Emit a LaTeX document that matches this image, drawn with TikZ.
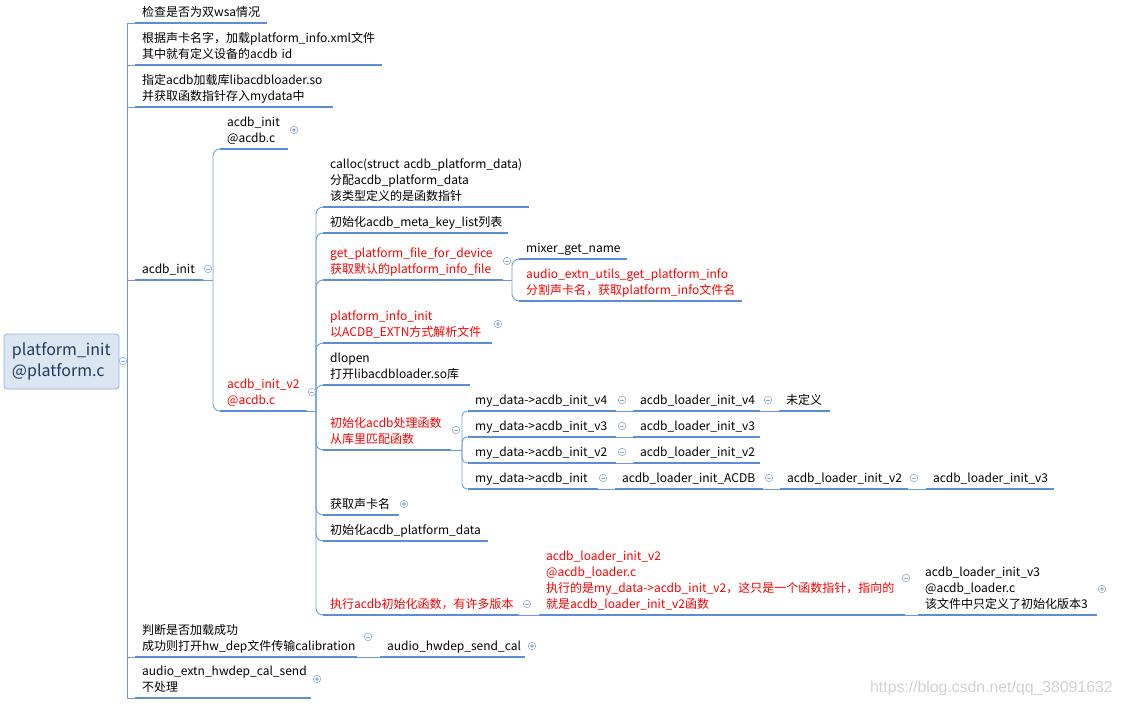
\documentclass[tikz,border=0pt]{standalone}
\usepackage{fontspec}
\setmainfont{Noto Sans CJK SC}
\newfontfamily\wmfont{Liberation Sans}
\definecolor{lineblue}{HTML}{5B8ED6}
\definecolor{connblue}{HTML}{6E9BDB}
\definecolor{iconc}{HTML}{93AECF}
\definecolor{rootfill}{HTML}{DCE6F2}
\definecolor{rootdraw}{HTML}{8EB4E3}
\definecolor{roottext}{HTML}{1F3A60}
\definecolor{redt}{HTML}{FF0000}
\tikzset{
  topic/.style={anchor=south west, inner xsep=7pt, inner ysep=1.8pt,
    align=left, font=\fontsize{12}{16}\selectfont, text=black,
    execute at begin node={\hyphenpenalty=10000\exhyphenpenalty=10000},
    execute at end node={\strut}},
  red/.style={text=redt},
  w/.code={\pgfmathsetmacro\tw{#1-14}\edef\tmp{\noexpand\tikzset{text width=\tw pt}}\tmp},
  ul/.style={draw=lineblue, line width=1.8pt},
  conn/.style={draw=connblue, line width=0.9pt},
  rconn/.style={conn, rounded corners=7pt},
  rootbox/.style={draw=rootdraw, fill=rootfill, line width=0.8pt, rounded corners=3pt,
    inner xsep=8pt, text width=99pt, minimum height=55pt, align=left,
    font=\fontsize{16}{21}\selectfont, text=roottext},
  iminus/.style={circle, draw=iconc, fill=white, minimum size=7.5pt, inner sep=0pt, line width=0.6pt,
    path picture={\draw[iconc, line width=0.6pt] ([xshift=-2pt]path picture bounding box.center) -- ([xshift=2pt]path picture bounding box.center);}},
  iplus/.style={circle, draw=iconc, fill=white, minimum size=7.5pt, inner sep=0pt, line width=0.6pt,
    path picture={\fill[iconc] (path picture bounding box.center) circle (1.8pt);}},
  wm/.style={font=\wmfont\fontsize{15.8}{18}\selectfont, text=black!18, inner sep=0pt}
}
\begin{document}
\begin{tikzpicture}[x=1pt,y=-1pt]
\useasboundingbox (0,0) rectangle (1122,706);
% root
\node[rootbox] (root) at (61.5,361.5) {platform\_init\\@platform.c};
% level 1
\node[topic,w=132] (n1) at (135,23) {检查是否为双wsa情况};
\node[topic,w=247] (n2) at (135,65) {根据声卡名字，加载platform\_info.xml文件\\其中就有定义设备的acdb~id};
\node[topic,w=198] (n3) at (135,107) {指定acdb加载库libacdbloader.so\\并获取函数指针存入mydata中};
\node[topic,w=68] (n4) at (135,280) {acdb\_init};
\node[topic,w=222] (n5) at (135,657) {判断是否加载成功\\成功则打开hw\_dep文件传输calibration};
\node[topic,w=176] (n6) at (135,698) {audio\_extn\_hwdep\_cal\_send\\不处理};
% level 2
\node[topic,w=68] (n41) at (220,149) {acdb\_init\\@acdb.c};
\node[topic,red,w=87] (n42) at (220,411) {acdb\_init\_v2\\@acdb.c};
% level 3
\node[topic,w=206] (n421) at (323,207) {calloc(struct~acdb\_platform\_data)\\分配acdb\_platform\_data\\该类型定义的是函数指针};
\node[topic,w=185] (n422) at (323,233) {初始化acdb\_meta\_key\_list列表};
\node[topic,red,w=180] (n423) at (323,280) {get\_platform\_file\_for\_device\\获取默认的platform\_info\_file};
\node[topic,red,w=169] (n424) at (323,343) {platform\_info\_init\\以ACDB\_EXTN方式解析文件};
\node[topic,w=147] (n425) at (323,385) {dlopen\\打开libacdbloader.so库};
\node[topic,red,w=128] (n426) at (323,450) {初始化acdb处理函数\\从库里匹配函数};
\node[topic,w=76] (n427) at (323,515) {获取声卡名};
\node[topic,w=165] (n428) at (323,541) {初始化acdb\_platform\_data};
\node[topic,red,w=196] (n429) at (323,615) {执行acdb初始化函数，有许多版本};
% level 4
\node[topic,w=108] (n4231) at (519,259) {mixer\_get\_name};
\node[topic,red,w=223] (n4232) at (519,301) {audio\_extn\_utils\_get\_platform\_info\\分割声卡名，获取platform\_info文件名};
\node[topic,w=148] (m4) at (468,411) {my\_data->acdb\_init\_v4};
\node[topic,w=148] (m3) at (468,437) {my\_data->acdb\_init\_v3};
\node[topic,w=148] (m2) at (468,463) {my\_data->acdb\_init\_v2};
\node[topic,w=130] (m1) at (468,489) {my\_data->acdb\_init};
\node[topic,w=127] (l4) at (633,411) {acdb\_loader\_init\_v4};
\node[topic,w=51] (u4) at (779,411) {未定义};
\node[topic,w=127] (l3) at (633,437) {acdb\_loader\_init\_v3};
\node[topic,w=127] (l2) at (633,463) {acdb\_loader\_init\_v2};
\node[topic,w=148] (lA) at (615,489) {acdb\_loader\_init\_ACDB};
\node[topic,w=128] (lA2) at (780,489) {acdb\_loader\_init\_v2};
\node[topic,w=128] (lA3) at (926,489) {acdb\_loader\_init\_v3};
\node[topic,red,w=366] (k1) at (539,615) {acdb\_loader\_init\_v2\\@acdb\_loader.c\\执行的是my\_data->acdb\_init\_v2，这只是一个函数指针，指向的\\就是acdb\_loader\_init\_v2函数};
\node[topic,w=179] (k2) at (918,615) {acdb\_loader\_init\_v3\\@acdb\_loader.c\\该文件中只定义了初始化版本3};
\node[topic,w=145] (h1) at (380,657) {audio\_hwdep\_send\_cal};
% underlines
\foreach \n in {n1,n2,n3,n4,n5,n6,n41,n42,n421,n422,n423,n424,n425,n426,n427,n428,n429,
  n4231,n4232,m4,m3,m2,m1,l4,u4,l3,l2,lA,lA2,lA3,k1,k2,h1}
  \draw[ul] (\n.south west) -- (\n.south east);
% connectors level 1
\coordinate (s0) at (127,361);
\draw[conn] (root.east) -- (s0);
\foreach \n in {n1,n2,n3,n4,n5,n6} \draw[conn] (s0) |- (\n.south west);
% level 2
\coordinate (s4) at (213,280);
\draw[conn] (n4.south east) -- (s4);
\foreach \n in {n41,n42} \draw[rconn] (s4) |- (\n.south west);
% level 3
\coordinate (s42) at (316,411);
\draw[conn] (n42.south east) -- (s42);
\foreach \n in {n421,n422,n423,n424,n425,n426,n427,n428,n429} \draw[rconn] (s42) |- (\n.south west);
% level 4
\coordinate (s423) at (512,280);
\draw[conn] (n423.south east) -- (s423);
\foreach \n in {n4231,n4232} \draw[rconn] (s423) |- (\n.south west);
\coordinate (s426) at (462,450);
\draw[conn] (n426.south east) -- (s426);
\foreach \n in {m4,m3,m2,m1} \draw[conn, rounded corners=5pt] (s426) |- (\n.south west);
% chains
\draw[conn] (m4.south east) -- (l4.south west);
\draw[conn] (l4.south east) -- (u4.south west);
\draw[conn] (m3.south east) -- (l3.south west);
\draw[conn] (m2.south east) -- (l2.south west);
\draw[conn] (m1.south east) -- (lA.south west);
\draw[conn] (lA.south east) -- (lA2.south west);
\draw[conn] (lA2.south east) -- (lA3.south west);
\draw[conn] (n429.south east) -- (k1.south west);
\draw[conn] (k1.south east) -- (k2.south west);
\draw[conn] (n5.south east) -- (h1.south west);
% icons
\node[iminus] (i0) at (123,361) {};
\node[iminus] (i4) at (208,269) {};
\node[iplus] (i41) at (294,130) {};
\node[iminus] (i42) at (312,392) {};
\node[iminus] (i423) at (507,261) {};
\node[iplus] (i424) at (498,324) {};
\node[iminus] (i426) at (456,430) {};
\node[iminus] (im4) at (622,400) {};
\node[iminus] (im3) at (622,426) {};
\node[iminus] (im2) at (622,452) {};
\node[iminus] (im1) at (603,478) {};
\node[iminus] (il4) at (768,400) {};
\node[iminus] (ilA) at (769,478) {};
\node[iminus] (ilA2) at (914,478) {};
\node[iplus] (i427) at (404,504) {};
\node[iminus] (i429) at (527,604) {};
\node[iminus] (ik1) at (906,578) {};
\node[iplus] (ik2) at (1102,589) {};
\node[iminus] (i5) at (368,637) {};
\node[iplus] (ih1) at (532,646) {};
\node[iplus] (i6) at (317,679) {};
% watermark
\node[wm, anchor=west] (wm) at (870,688) {https://blog.csdn.net/qq\_38091632};
\end{tikzpicture}
\end{document}
